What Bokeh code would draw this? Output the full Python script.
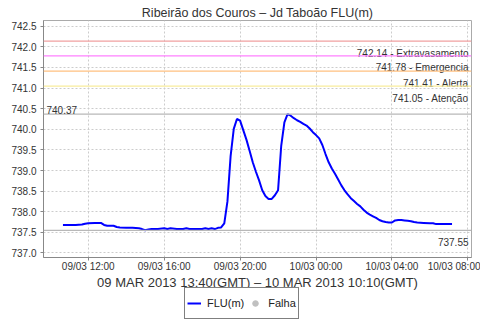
from datetime import datetime, timedelta
from bokeh.plotting import figure
from bokeh.layouts import column
from bokeh.models import (Range1d, Span, Label, Legend, LegendItem, FixedTicker,
                          DatetimeTickFormatter, PrintfTickFormatter, ColumnDataSource)
from bokeh.embed import file_html
from bokeh.resources import INLINE

# ---- data (local time axis) ----
times = [
    "2013-03-09 10:40", "2013-03-09 11:00", "2013-03-09 11:20", "2013-03-09 11:40", "2013-03-09 11:50",
    "2013-03-09 12:00", "2013-03-09 12:20", "2013-03-09 12:40", "2013-03-09 12:50", "2013-03-09 13:00",
    "2013-03-09 13:20", "2013-03-09 13:30", "2013-03-09 13:40", "2013-03-09 14:00", "2013-03-09 14:20",
    "2013-03-09 14:40", "2013-03-09 14:50", "2013-03-09 15:00", "2013-03-09 15:10", "2013-03-09 15:20",
    "2013-03-09 15:40", "2013-03-09 16:00", "2013-03-09 16:10", "2013-03-09 16:20", "2013-03-09 16:40",
    "2013-03-09 17:00", "2013-03-09 17:10", "2013-03-09 17:20", "2013-03-09 17:40", "2013-03-09 18:00",
    "2013-03-09 18:10", "2013-03-09 18:20", "2013-03-09 18:30", "2013-03-09 18:40", "2013-03-09 18:50",
    "2013-03-09 19:00", "2013-03-09 19:10", "2013-03-09 19:20", "2013-03-09 19:30", "2013-03-09 19:40",
    "2013-03-09 19:50", "2013-03-09 20:00", "2013-03-09 20:10", "2013-03-09 20:20", "2013-03-09 20:30",
    "2013-03-09 20:40", "2013-03-09 20:50", "2013-03-09 21:00", "2013-03-09 21:10", "2013-03-09 21:20",
    "2013-03-09 21:30", "2013-03-09 21:40", "2013-03-09 21:50", "2013-03-09 22:00", "2013-03-09 22:10",
    "2013-03-09 22:20", "2013-03-09 22:30", "2013-03-09 22:40", "2013-03-09 22:50", "2013-03-09 23:00",
    "2013-03-09 23:10", "2013-03-09 23:20", "2013-03-09 23:30", "2013-03-09 23:40", "2013-03-09 23:50",
    "2013-03-10 00:00", "2013-03-10 00:10", "2013-03-10 00:20", "2013-03-10 00:30", "2013-03-10 00:40",
    "2013-03-10 00:50", "2013-03-10 01:00", "2013-03-10 01:10", "2013-03-10 01:20", "2013-03-10 01:30",
    "2013-03-10 01:40", "2013-03-10 01:50", "2013-03-10 02:00", "2013-03-10 02:10", "2013-03-10 02:20",
    "2013-03-10 02:30", "2013-03-10 02:40", "2013-03-10 02:50", "2013-03-10 03:00", "2013-03-10 03:10",
    "2013-03-10 03:20", "2013-03-10 03:30", "2013-03-10 03:40", "2013-03-10 03:50", "2013-03-10 04:00",
    "2013-03-10 04:10", "2013-03-10 04:20", "2013-03-10 04:30", "2013-03-10 04:40", "2013-03-10 04:50",
    "2013-03-10 05:00", "2013-03-10 05:10", "2013-03-10 05:20", "2013-03-10 05:40", "2013-03-10 06:00",
    "2013-03-10 06:10", "2013-03-10 06:20", "2013-03-10 06:40", "2013-03-10 07:00", "2013-03-10 07:10",
]
flu = [
    737.68, 737.68, 737.68, 737.69, 737.71,
    737.72, 737.73, 737.73, 737.68, 737.66,
    737.66, 737.63, 737.62, 737.61, 737.61,
    737.60, 737.58, 737.55, 737.57, 737.58,
    737.58, 737.60, 737.58, 737.60, 737.58,
    737.58, 737.60, 737.58, 737.58, 737.58,
    737.60, 737.58, 737.60, 737.58, 737.61,
    737.62, 737.72, 738.25, 739.35, 740.01,
    740.25, 740.21, 739.98, 739.75, 739.48,
    739.20, 738.97, 738.76, 738.52, 738.38,
    738.31, 738.31, 738.40, 738.52, 739.60,
    740.17, 740.37, 740.33, 740.27, 740.22,
    740.18, 740.13, 740.09, 740.02, 739.93,
    739.86, 739.78, 739.62, 739.40, 739.20,
    739.05, 738.92, 738.78, 738.64, 738.52,
    738.42, 738.33, 738.26, 738.19, 738.13,
    738.05, 737.98, 737.93, 737.89, 737.85,
    737.80, 737.77, 737.75, 737.74, 737.74,
    737.79, 737.80, 737.80, 737.79, 737.78,
    737.77, 737.75, 737.74, 737.73, 737.72,
    737.72, 737.70, 737.70, 737.70, 737.70,
]
# no failure readings in this period
falha_x = [float("nan")]
falha_y = [float("nan")]

threshold_values = [742.14, 741.78, 741.41, 741.05]
threshold_names = ["Extravasamento", "Emergencia", "Alerta", "Atenção"]
threshold_colors = ["#f0a0a0", "#ff80ff", "#ffc080", "#f8ec9c"]
max_value = 740.37
min_value = 737.55
y_ticks = [737.0, 737.5, 738.0, 738.5, 739.0, 739.5, 740.0, 740.5, 741.0, 741.5, 742.0, 742.5]

title_text = "Ribeirão dos Couros – Jd Taboão FLU(m)"
xlabel_text = "09 MAR 2013 13:40(GMT) – 10 MAR 2013 10:10(GMT)"
series_names = ["FLU(m)", "Falha"]

FONT = "Liberation Sans"

dts = [datetime.strptime(t, "%Y-%m-%d %H:%M") for t in times]
span = dts[-1] - dts[0]
x0 = dts[0] - span * 0.05
x1 = dts[-1] + span * 0.05

# 4-hour ticks
epoch = datetime(1970, 1, 1)
t = datetime(x0.year, x0.month, x0.day)
xt = []
while t <= x1:
    if t >= x0:
        xt.append((t - epoch).total_seconds() * 1000)
    t += timedelta(hours=4)

p = figure(width=480, height=274, output_backend="svg", toolbar_location=None,
           x_axis_type="datetime",
           x_range=Range1d(x0, x1), y_range=Range1d(736.89, 742.64),
           min_border_left=43, min_border_right=9, min_border_top=20, min_border_bottom=15)

p.title.text = title_text
p.title.align = "center"
p.title.text_font = FONT
p.title.text_font_size = "12.5px"
p.title.text_font_style = "normal"
p.title.text_color = "#333333"
p.title.standoff = 2

p.background_fill_color = "white"
p.border_fill_color = "white"
p.outline_line_color = "#aaaaaa"

p.xaxis.ticker = FixedTicker(ticks=xt)
fmt = "%d/%m %H:%M"
p.xaxis.formatter = DatetimeTickFormatter(hours=fmt, days=fmt, hourmin=fmt, minutes=fmt, months=fmt)
p.yaxis.ticker = FixedTicker(ticks=y_ticks)
p.yaxis.formatter = PrintfTickFormatter(format="%.1f")

for ax in (p.xaxis, p.yaxis):
    ax.axis_line_color = "#888888"
    ax.major_tick_line_color = "#888888"
    ax.major_tick_out = 3
    ax.major_tick_in = 0
    ax.minor_tick_line_color = None
    ax.major_label_text_font = FONT
    ax.major_label_text_font_size = "10px"
    ax.major_label_text_color = "#333333"
p.yaxis.major_label_standoff = 4
p.xaxis.major_label_standoff = 0

for g in (p.xgrid, p.ygrid):
    g.grid_line_color = "#cccccc"
    g.grid_line_dash = "2 2"
    g.grid_line_width = 1
p.xgrid.ticker = p.xaxis.ticker
p.ygrid.ticker = p.yaxis.ticker

# threshold lines (label x in frame-relative screen px)
RIGHT = 425
for v, name, c in zip(threshold_values, threshold_names, threshold_colors):
    p.add_layout(Span(location=v, dimension="width", line_color=c, line_width=1.2))
    p.add_layout(Label(x=RIGHT, y=v, x_units="screen", text=f"{v:.2f} - {name}",
                       text_align="right", text_baseline="alphabetic", y_offset=-12,
                       text_font=FONT, text_font_size="10px", text_color="#333333"))

p.add_layout(Span(location=max_value, dimension="width", line_color="#b8b8b8", line_width=1.2))
p.add_layout(Label(x=3, y=max_value, x_units="screen", text=f"{max_value:.2f}",
                   text_align="left", text_baseline="alphabetic", y_offset=4,
                   text_font=FONT, text_font_size="10px", text_color="#333333"))
p.add_layout(Span(location=min_value, dimension="width", line_color="#b8b8b8", line_width=1.2))
p.add_layout(Label(x=RIGHT, y=min_value, x_units="screen", text=f"{min_value:.2f}",
                   text_align="right", text_baseline="alphabetic", y_offset=-12,
                   text_font=FONT, text_font_size="10px", text_color="#333333"))

src = ColumnDataSource(dict(x=dts, y=flu))
p.line("x", "y", source=src, line_color="#0000ff", line_width=2)

# ---- bottom strip: axis title + legend (frame aligned with main plot, starts at x=43) ----
q = figure(width=480, height=46, output_backend="svg", toolbar_location=None,
           x_range=Range1d(0, 1), y_range=Range1d(0, 1),
           min_border=0, outline_line_color=None)
q.axis.visible = False
q.grid.visible = False
q.background_fill_color = "white"
q.border_fill_color = "white"
q.add_layout(Label(x=214, y=38, x_units="screen", y_units="screen", text=xlabel_text,
                   text_align="center", text_baseline="middle",
                   text_font=FONT, text_font_size="13px", text_color="#333333"))
r_line = q.line(x=falha_x, y=falha_y, line_color="#0000ff", line_width=2)
r_fail = q.scatter(x=falha_x, y=falha_y, size=8, fill_color="#c0c0c0", line_color="#c0c0c0")
legend = Legend(items=[LegendItem(label=series_names[0], renderers=[r_line]),
                       LegendItem(label=series_names[1], renderers=[r_fail])],
                orientation="horizontal", location=(141, 1),
                border_line_color="black", border_line_width=1,
                background_fill_alpha=1, padding=2, margin=0, spacing=4,
                glyph_width=14, glyph_height=26, label_height=26, label_standoff=6,
                label_text_font=FONT, label_text_font_size="11px", label_text_color="#222222")
q.add_layout(legend, "center")

layout = column(p, q, spacing=0)
open("out.html", "w").write(file_html(layout, INLINE))
